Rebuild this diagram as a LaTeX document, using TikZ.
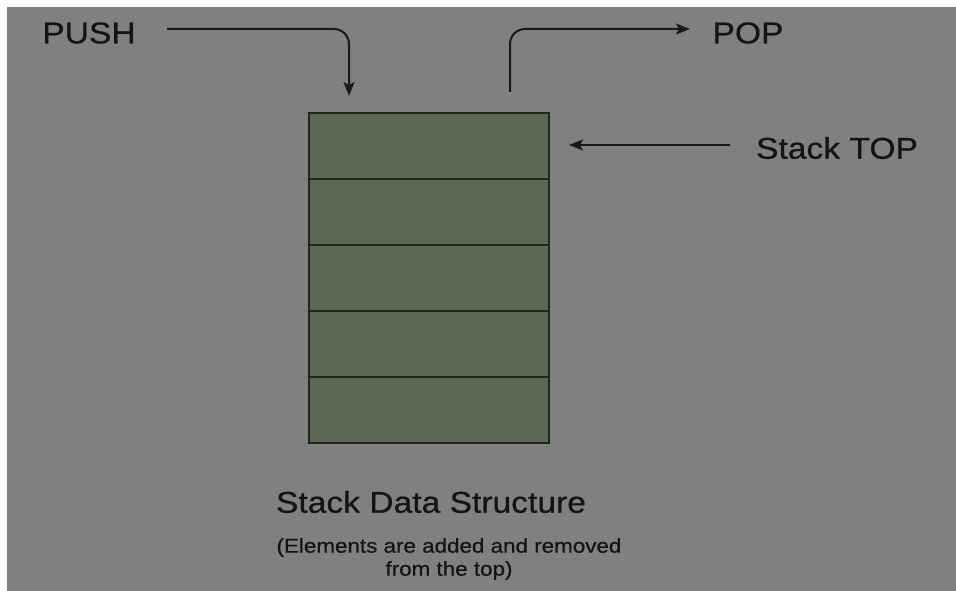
\documentclass[tikz,border=0pt]{standalone}
\usepackage{fontspec}
\setmainfont{Liberation Sans}[FakeStretch=1.12, FakeBold=0.6]
\usetikzlibrary{arrows.meta}
\definecolor{bggray}{RGB}{128,128,128}
\definecolor{cellfill}{RGB}{90,104,84}
\definecolor{celledge}{RGB}{28,40,26}
\tikzset{
  cell/.style={draw=celledge, line width=1.8pt, fill=cellfill,
    minimum width=240pt, minimum height=66pt, inner sep=0pt, outer sep=0pt, anchor=north west},
  flow/.style={draw=black!90, line width=2pt, rounded corners=15pt,
    -{Stealth[length=14pt,width=11pt,inset=3pt]}},
  biglabel/.style={font=\fontsize{30}{34}\selectfont, text=black!92, inner sep=0pt},
  smalllabel/.style={font=\fontsize{20}{23}\selectfont, text=black!92, inner sep=0pt, align=center}
}
\begin{document}
\begin{tikzpicture}[x=1pt,y=-1pt]
  % canvas: white margin on the top and left, grey ground
  \useasboundingbox (0,0) rectangle (956,591);
  \fill[white] (0,0) rectangle (956,591);
  \fill[bggray] (7,7) rectangle (956,591);

  % the five stack cells
  \node[cell] (c1) at (309,113) {};
  \node[cell] (c2) at (309,179) {};
  \node[cell] (c3) at (309,245) {};
  \node[cell] (c4) at (309,311) {};
  \node[cell] (c5) at (309,377) {};

  % labels
  \node[biglabel] (push) at (89,33) {PUSH};
  \node[biglabel] (pop) at (748,33) {POP};
  \node[biglabel] (top) at (837,148) {Stack TOP};
  \node[biglabel] (title) at (431,502) {Stack Data Structure};
  \node[smalllabel] (note) at (449,559) {(Elements are added and removed\\from the top)};

  % arrow end points
  \coordinate (pushstart) at (167,29);
  \coordinate (pushend) at (349,96);
  \coordinate (popstart) at (510,92);
  \coordinate (popend) at (690,29);
  \coordinate (topstart) at (730,145);
  \coordinate (topend) at (569,145);

  % connectors
  \draw[flow] (pushstart) -| (pushend);
  \draw[flow] (popstart) |- (popend);
  \draw[flow] (topstart) -- (topend);
\end{tikzpicture}
\end{document}
